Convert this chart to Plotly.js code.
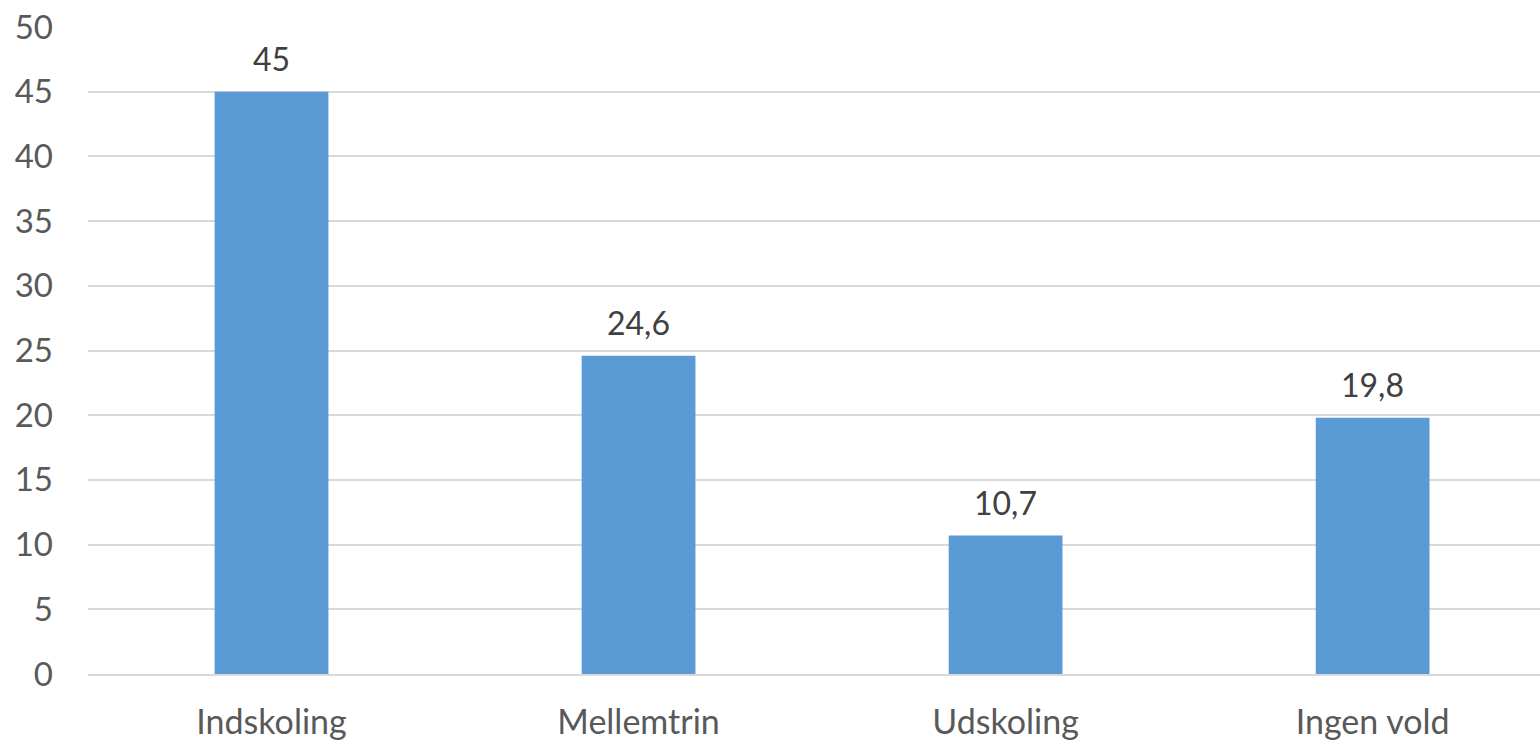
<!DOCTYPE html>
<html>
<head>
<meta charset="utf-8">
<script src="https://cdn.plot.ly/plotly-3.0.1.min.js"></script>
<style>html,body{margin:0;padding:0;background:#fff;}#chart{width:1540px;height:741px;}</style>
</head>
<body>
<div id="chart"></div>
<script>
const categories = ["Indskoling", "Mellemtrin", "Udskoling", "Ingen vold"];
const values = [45, 24.6, 10.7, 19.8];
const yTicks = [0, 5, 10, 15, 20, 25, 30, 35, 40, 45, 50];

const labels = values.map(v => String(v).replace('.', ','));

const trace = {
  type: 'bar',
  x: categories,
  y: values,
  marker: {color: '#5B9BD5'},
  hoverinfo: 'none'
};

const annotations = categories.map((c, i) => ({
  x: c, y: values[i], text: labels[i], showarrow: false,
  xanchor: 'center', yanchor: 'bottom', yshift: 12,
  font: {family: 'Lato, sans-serif', size: 32, color: '#404040'}
}));

const layout = {
  width: 1540, height: 741,
  margin: {l: 88, r: 0, t: 26.5, b: 66.5},
  paper_bgcolor: '#fff', plot_bgcolor: '#fff',
  showlegend: false,
  bargap: 0.69,
  font: {family: 'Lato, sans-serif', size: 32, color: '#595959'},
  xaxis: {
    type: 'category',
    range: [-0.5, 3.456],
    showgrid: false, zeroline: false,
    showline: true, linecolor: '#D9D9D9', linewidth: 2,
    ticks: '', ticklabelstandoff: 17,
    tickfont: {family: 'Lato, sans-serif', size: 34, color: '#595959'}
  },
  yaxis: {
    range: [0, 50], tickvals: yTicks,
    showgrid: true, gridcolor: '#D9D9D9', gridwidth: 2,
    zeroline: false, showline: false, ticks: '',
    ticklabelstandoff: 34,
    tickfont: {family: 'Lato, sans-serif', size: 33, color: '#595959'}
  },
  annotations: annotations
};

Plotly.newPlot('chart', [trace], layout, {staticPlot: true, displayModeBar: false});
</script>
</body>
</html>
